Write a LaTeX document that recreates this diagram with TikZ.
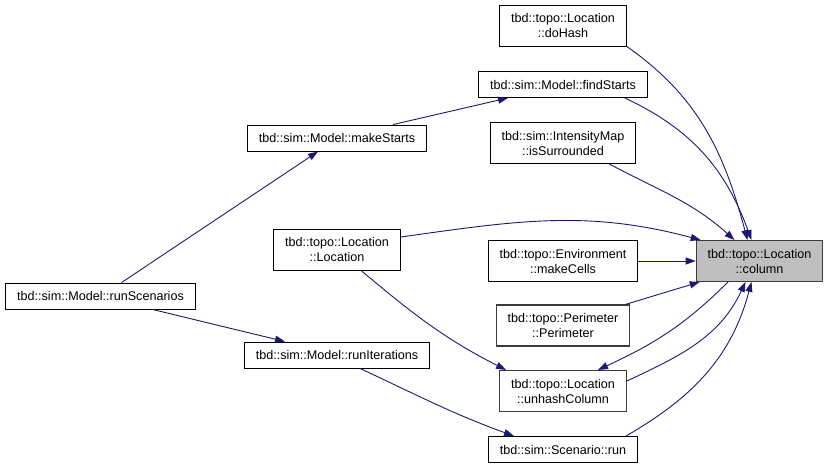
\documentclass[tikz,border=0pt]{standalone}
\usepackage{fontspec}
\setmainfont{Liberation Sans}
\usepackage{xcolor}
\usepackage{tikz}
\usetikzlibrary{arrows.meta, positioning}
\definecolor{edgeblue}{RGB}{25,25,112}
\definecolor{rootfill}{RGB}{191,191,191}
\definecolor{greyline}{RGB}{60,60,60}

\begin{document}
\begin{tikzpicture}[x=1pt,y=-1pt,
  fn/.style={draw,rectangle,line width=0.9pt,inner xsep=11.5pt,inner ysep=2pt,
             minimum height=26pt,align=center,
             font=\fontsize{12.6}{15}\selectfont},
  fntwo/.style={fn,minimum height=41pt},
  root/.style={fntwo,fill=rootfill,draw=greyline},
  nodoc/.style={draw=greyline,line width=1.1pt},
  arr/.style={-{Triangle[length=10pt,width=7pt]},draw=edgeblue,line width=0.9pt}
]
\useasboundingbox (0,0) rectangle (828,469);
\node[root]        (column)   at (759.5,261)  {tbd::topo::Location\\::column};
\node[fntwo]       (doHash)   at (563,25.5)   {tbd::topo::Location\\::doHash};
\node[fn]          (findSt)   at (563,84.5)   {tbd::sim::Model::findStarts};
\node[fntwo]       (isSurr)   at (563,143)    {tbd::sim::IntensityMap\\::isSurrounded};
\node[fntwo]       (loc)      at (337,249.5)  {tbd::topo::Location\\::Location};
\node[fntwo]       (mkCells)  at (563,261)    {tbd::topo::Environment\\::makeCells};
\node[fntwo,nodoc] (perim)    at (563,325.5)  {tbd::topo::Perimeter\\::Perimeter};
\node[fntwo,nodoc] (unhash)   at (563,391)    {tbd::topo::Location\\::unhashColumn};
\node[fn]          (run)      at (563,449.5)  {tbd::sim::Scenario::run};
\node[fn]          (mkStarts) at (337,138)    {tbd::sim::Model::makeStarts};
\node[fn]          (runIt)    at (337,355)    {tbd::sim::Model::runIterations};
\node[fn]          (runSc)    at (100.5,296)  {tbd::sim::Model::runScenarios};

\draw[arr] (doHash.south east) to[out=-35,in=105] ([xshift=-12pt]column.north);
\draw[arr] ([xshift=-23pt]findSt.south east) to[out=-25,in=110] ([xshift=-8pt]column.north);
\draw[arr] ([xshift=-27pt]isSurr.south east) to[out=-28,in=138] ([xshift=-25pt]column.north);
\draw[arr] ([yshift=12.5pt]loc.east) to[out=8,in=165] ([xshift=5pt]column.north west);
\draw[arr] (mkCells.east) -- (column.west);
\draw[arr] ([xshift=-5pt]perim.north east) -- ([xshift=4pt]column.south west);
\draw[arr] ([xshift=-31.5pt]column.south) to[out=-135,in=25] ([xshift=35pt]unhash.north);
\draw[arr] ([yshift=10pt]unhash.east) to[out=25,in=-115] ([xshift=-14pt]column.south);
\draw[arr] ([xshift=-12pt]run.north east) to[out=30,in=-105] ([xshift=-8pt]column.south);
\draw[arr] ([xshift=56pt]mkStarts.north) -- ([xshift=-55pt]findSt.south);
\draw[arr] ([xshift=21pt]runSc.north) -- ([xshift=-19pt]mkStarts.south);
\draw[arr] ([xshift=52pt]runSc.south) -- ([xshift=-52pt]runIt.north);
\draw[arr] ([xshift=24pt]loc.south) to[out=-40,in=153] ([xshift=-57pt]unhash.north);
\draw[arr] ([xshift=23pt]runIt.south) to[out=-25,in=160] ([xshift=-49pt]run.north);
\end{tikzpicture}
\end{document}
